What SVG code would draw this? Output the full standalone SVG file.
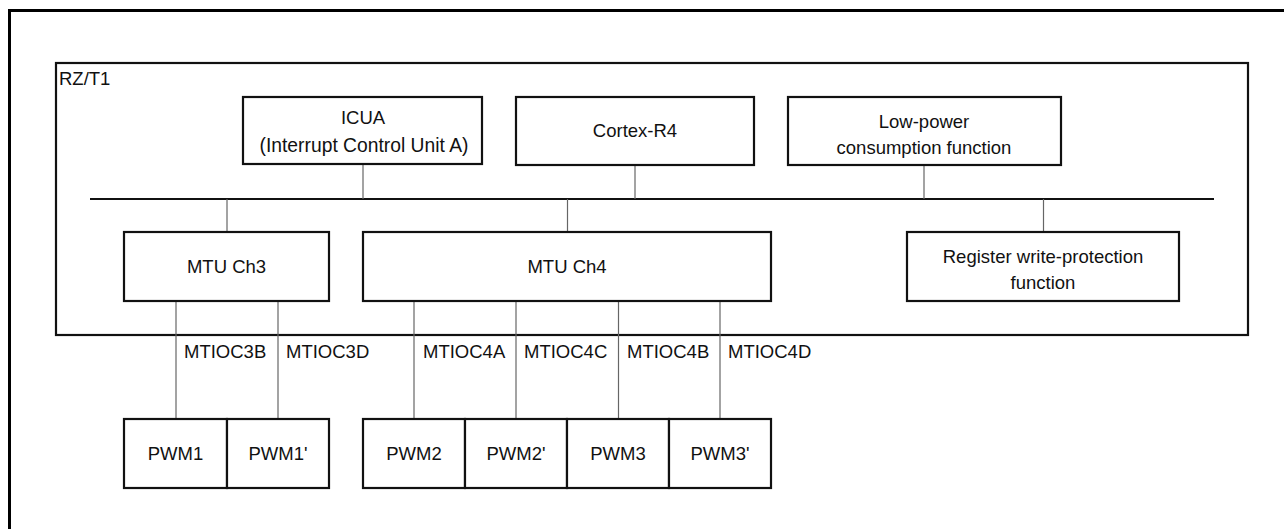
<svg xmlns="http://www.w3.org/2000/svg" width="1284" height="529" viewBox="0 0 1284 529">
<style>
.box{fill:#fff;stroke:#111;stroke-width:2.2}
.t{font-family:"Liberation Sans",Arial,sans-serif;font-size:18.5px;fill:#111;text-anchor:middle}
.lbl{font-family:"Liberation Sans",Arial,sans-serif;font-size:18.5px;fill:#111}
.bus{stroke:#111;stroke-width:2.2;fill:none}
.wire{stroke:#666;stroke-width:1.2;fill:none}
</style>
<rect width="1284" height="529" fill="#fff"/>
<g id="frame"><rect x="9.5" y="10.5" width="1300" height="600" fill="none" stroke="#000" stroke-width="3"/></g>
<g id="rzt1">
<rect x="56" y="63" width="1192" height="272" fill="none" stroke="#111" stroke-width="2.2"/>
<text class="lbl" x="59" y="85">RZ/T1</text>
</g>
<g id="connectors">
<line class="bus" x1="90" y1="199" x2="1214" y2="199"/>
<line class="wire" x1="363" y1="164" x2="363" y2="199"/>
<line class="wire" x1="635" y1="165" x2="635" y2="199"/>
<line class="wire" x1="924" y1="165" x2="924" y2="199"/>
<line class="wire" x1="227" y1="199" x2="227" y2="232"/>
<line class="wire" x1="567.5" y1="199" x2="567.5" y2="232"/>
<line class="wire" x1="1043.5" y1="199" x2="1043.5" y2="232"/>
<line class="wire" x1="176" y1="301" x2="176" y2="419"/>
<line class="wire" x1="278" y1="301" x2="278" y2="419"/>
<line class="wire" x1="414" y1="301" x2="414" y2="419"/>
<line class="wire" x1="516" y1="301" x2="516" y2="419"/>
<line class="wire" x1="618.5" y1="301" x2="618.5" y2="419"/>
<line class="wire" x1="720" y1="301" x2="720" y2="419"/>
<text class="lbl" x="184" y="358">MTIOC3B</text>
<text class="lbl" x="286" y="358">MTIOC3D</text>
<text class="lbl" x="423" y="358">MTIOC4A</text>
<text class="lbl" x="524" y="358">MTIOC4C</text>
<text class="lbl" x="627" y="358">MTIOC4B</text>
<text class="lbl" x="728" y="358">MTIOC4D</text>
</g>
<g id="icua"><rect class="box" x="243" y="97" width="239" height="67"/>
<text class="t" x="363" y="124">ICUA</text><text class="t" x="364" y="152" style="font-size:19.3px">(Interrupt Control Unit A)</text></g>
<g id="cortex"><rect class="box" x="516" y="97" width="238" height="68"/>
<text class="t" x="635" y="137">Cortex-R4</text></g>
<g id="lowpower"><rect class="box" x="788" y="97" width="273" height="68"/>
<text class="t" x="924" y="128">Low-power</text><text class="t" x="924" y="154">consumption function</text></g>
<g id="mtu3"><rect class="box" x="124" y="232" width="205" height="69"/>
<text class="t" x="226.5" y="273">MTU Ch3</text></g>
<g id="mtu4"><rect class="box" x="363" y="232" width="408" height="69"/>
<text class="t" x="567" y="273">MTU Ch4</text></g>
<g id="regwp"><rect class="box" x="907" y="232" width="272" height="69"/>
<text class="t" x="1043" y="263">Register write-protection</text><text class="t" x="1043" y="289">function</text></g>
<g id="pwm1"><rect class="box" x="124" y="419" width="103" height="69"/><text class="t" x="175.5" y="460">PWM1</text></g>
<g id="pwm1p"><rect class="box" x="227" y="419" width="102" height="69"/><text class="t" x="278" y="460">PWM1'</text></g>
<g id="pwm2"><rect class="box" x="363" y="419" width="102" height="69"/><text class="t" x="414" y="460">PWM2</text></g>
<g id="pwm2p"><rect class="box" x="465" y="419" width="102" height="69"/><text class="t" x="516" y="460">PWM2'</text></g>
<g id="pwm3"><rect class="box" x="567" y="419" width="102" height="69"/><text class="t" x="618" y="460">PWM3</text></g>
<g id="pwm3p"><rect class="box" x="669" y="419" width="102" height="69"/><text class="t" x="720" y="460">PWM3'</text></g>
</svg>
